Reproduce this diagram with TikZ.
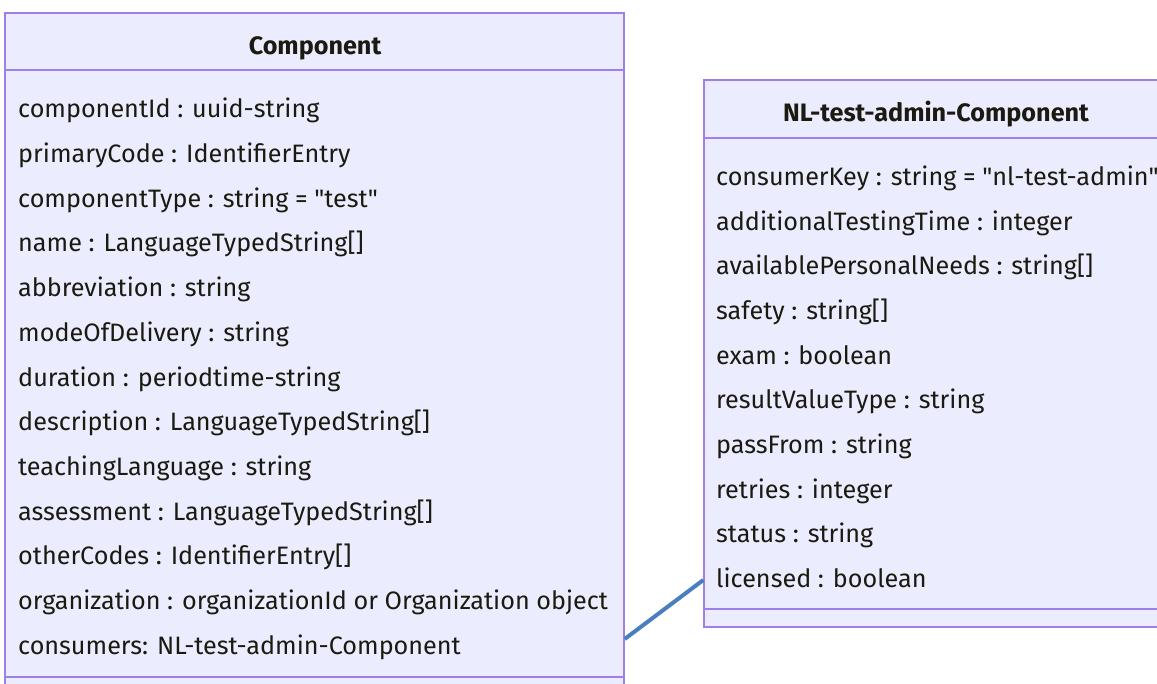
\documentclass[tikz,border=0pt]{standalone}
\usepackage{fontspec}
\setmainfont{Fira Sans}
\usetikzlibrary{shadows}
\definecolor{boxfill}{HTML}{ECECFF}
\definecolor{boxline}{HTML}{9F7FE8}
\definecolor{linkblue}{HTML}{4A7FBF}
\definecolor{txt}{HTML}{1A1A10}
\tikzset{
  classbox/.style={draw=boxline, fill=boxfill, line width=1.4pt, rectangle, inner sep=0pt},
  divider/.style={draw=boxline, line width=1.4pt},
  attr/.style={anchor=base west, inner sep=0pt, font=\fontsize{25.2}{28}\selectfont, text=txt},
  ttl/.style={anchor=base, inner sep=0pt, font=\fontsize{25.2}{28}\selectfont\bfseries, text=txt},
  link/.style={draw=linkblue, line width=4pt, drop shadow={shadow xshift=1pt, shadow yshift=-1.5pt, opacity=0.35}}
}
\begin{document}
\begin{tikzpicture}[x=1pt,y=1pt]
\useasboundingbox (0,0) rectangle (1157,684);
\begin{scope}
\clip (0,0) rectangle (1157,684);
% Component box
\node[classbox, minimum width=619pt, minimum height=687pt] (comp) at (314.5,327.5) {};
\draw[divider] (comp.west |- 0,614) coordinate (cd1) -- (comp.east |- 0,614) coordinate (cd2);
\draw[divider] (comp.west |- 0,7) coordinate (cd3) -- (comp.east |- 0,7) coordinate (cd4);
\node[ttl] (comptitle) at (315,629) {Component};
\foreach \t [count=\i from 0] in {%
  componentId : uuid-string,
  primaryCode : IdentifierEntry,
  componentType : string = \textquotedbl test\textquotedbl,
  name : LanguageTypedString[],
  abbreviation : string,
  modeOfDelivery : string,
  duration : periodtime-string,
  description : LanguageTypedString[],
  teachingLanguage : string,
  assessment : LanguageTypedString[],
  otherCodes : IdentifierEntry[],
  organization : organizationId or Organization object,
  consumers: NL-test-admin-Component}
  \node[attr] (ca\i) at (18,{566-44.67*\i}) {\t};
% NL-test-admin-Component box
\node[classbox, minimum width=466pt, minimum height=547pt] (admin) at (937,330.5) {};
\draw[divider] (admin.west |- 0,546) coordinate (ad1) -- (admin.east |- 0,546) coordinate (ad2);
\draw[divider] (admin.west |- 0,75) coordinate (ad3) -- (admin.east |- 0,75) coordinate (ad4);
\node[ttl] (admintitle) at (936,562) {NL-test-admin-Component};
\foreach \t [count=\i from 0] in {%
  consumerKey : string = \textquotedbl nl-test-admin\textquotedbl,
  additionalTestingTime : integer,
  availablePersonalNeeds : string[],
  safety : string[],
  exam : boolean,
  resultValueType : string,
  passFrom : string,
  retries : integer,
  status : string,
  licensed : boolean}
  \node[attr] (aa\i) at (716,{498.5-44.67*\i}) {\t};
% connector
\coordinate (l1) at (comp.east |- 0,45);
\coordinate (l2) at (admin.west |- 0,104);
\draw[link] (l1) -- (l2);
\end{scope}
\end{tikzpicture}
\end{document}
